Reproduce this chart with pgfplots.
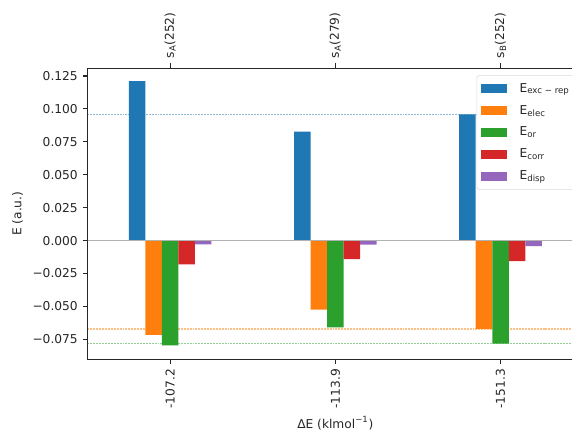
\documentclass[border=0pt]{standalone}
\usepackage{pgfplots}
\pgfplotsset{compat=1.18}
\usepackage{fontspec}
\setmainfont{DejaVu Sans}

\definecolor{tabblue}{HTML}{1F77B4}
\definecolor{taborange}{HTML}{FF7F0E}
\definecolor{tabgreen}{HTML}{2CA02C}
\definecolor{tabred}{HTML}{D62728}
\definecolor{tabpurple}{HTML}{9467BD}
\definecolor{spine}{HTML}{262626}
\definecolor{lineblue}{HTML}{8FBBD9}
\definecolor{lineorange}{HTML}{FFC086}
\definecolor{linegreen}{HTML}{95CF95}

% small subscript, as in the figure's mathtext
\newcommand\sub[1]{\textsubscript{\fontsize{6.2}{7}\selectfont #1}}

\pgfplotsset{
  common/.style={
    scale only axis, width=356.8pt, height=209.7pt,
    at={(0,0)}, anchor=south west,
    xmin=-0.5, xmax=2.5, ymin=-0.0902, ymax=0.131,
    tick align=outside, major tick length=3.5pt,
    tick style={spine, line width=0.8pt},
    axis line style={spine, line width=0.8pt},
    every tick label/.append style={font=\fontsize{8.8}{10.5}\selectfont, text=spine},
    label style={font=\fontsize{8.8}{10.5}\selectfont, text=spine},
  },
}

\begin{document}
\begin{tikzpicture}
\begin{axis}[common,
  xtick={0,1,2}, xticklabels={-107.2,-113.9,-151.3}, xtick pos=bottom,
  xticklabel style={rotate=90, anchor=east},
  ytick={-0.075,-0.05,-0.025,0,0.025,0.05,0.075,0.1,0.125},
  yticklabels={−0.075,−0.050,−0.025,0.000,0.025,0.050,0.075,0.100,0.125},
  ytick pos=left,
  xlabel={ΔE (klmol\textsuperscript{−1})},
  ylabel={E (a.u.)},
  xlabel style={yshift=1pt},
  legend cell align=left,
  legend style={at={(1,1)}, anchor=north east, xshift=-4.5pt, yshift=-5pt,
    draw=black!15, rounded corners=2pt, fill=white,
    font=\fontsize{8.8}{10.5}\selectfont, text=spine,
    row sep=3.8pt, inner xsep=3pt, inner ysep=3.8pt,
    /tikz/every odd column/.append style={column sep=7pt}},
  legend image code/.code={\fill[#1, sharp corners] (0pt,-3.2pt) rectangle (18.7pt,3.2pt);},
]
% reference levels
\addplot[color=lineblue, line width=1pt, dash pattern=on 1.4pt off 0.7pt, forget plot] coordinates {(-0.5,0.0958) (2.5,0.0958)};
\addplot[color=lineorange, line width=1pt, dash pattern=on 1.4pt off 0.7pt, forget plot] coordinates {(-0.5,-0.0672) (2.5,-0.0672)};
\addplot[color=linegreen, line width=1pt, dash pattern=on 1.4pt off 0.7pt, forget plot] coordinates {(-0.5,-0.0783) (2.5,-0.0783)};
% energy components
\addplot[ybar, bar width=0.1, bar shift=-0.2, fill=tabblue, draw=none]
  coordinates {(0,0.1210) (1,0.0828) (2,0.0958)};
\addlegendentry{E\sub{exc − rep}}
\addplot[ybar, bar width=0.1, bar shift=-0.1, fill=taborange, draw=none]
  coordinates {(0,-0.0717) (1,-0.0525) (2,-0.0670)};
\addlegendentry{E\sub{elec}}
\addplot[ybar, bar width=0.1, bar shift=0, fill=tabgreen, draw=none]
  coordinates {(0,-0.0795) (1,-0.0660) (2,-0.0783)};
\addlegendentry{E\sub{or}}
\addplot[ybar, bar width=0.1, bar shift=0.1, fill=tabred, draw=none]
  coordinates {(0,-0.0180) (1,-0.0140) (2,-0.0157)};
\addlegendentry{E\sub{corr}}
\addplot[ybar, bar width=0.1, bar shift=0.2, fill=tabpurple, draw=none]
  coordinates {(0,-0.0028) (1,-0.0030) (2,-0.0043)};
\addlegendentry{E\sub{disp}}
% zero baseline
\addplot[black!30, line width=0.8pt, forget plot] coordinates {(-0.5,0) (2.5,0)};
\end{axis}
\begin{axis}[common,
  axis x line*=top, axis y line=none,
  xtick={0,1,2},
  xticklabels={s\sub{A}(252),s\sub{A}(279),s\sub{B}(252)},
  xticklabel style={rotate=90, anchor=west},
]
\end{axis}
\pgfresetboundingbox
\useasboundingbox (-63pt,-50.2pt) rectangle (348.8pt,258.7pt);
\end{tikzpicture}
\end{document}
